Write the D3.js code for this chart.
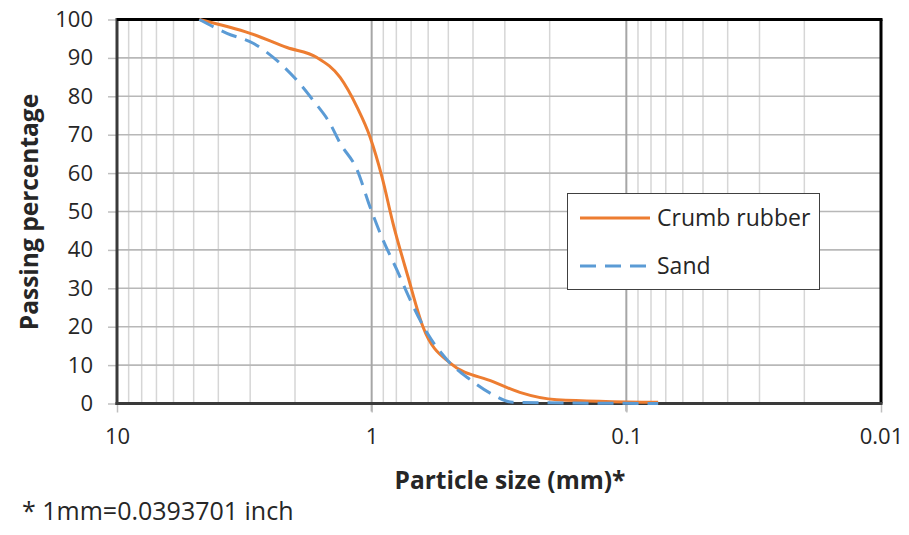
<!DOCTYPE html>
<html>
<head>
<meta charset="utf-8">
<script src="https://cdn.jsdelivr.net/npm/d3@7"></script>
<style>
  html, body { margin: 0; padding: 0; background: #fff; }
  svg { display: block; }
  text { font-family: "Open Sans", "Noto Sans", sans-serif; fill: #262626; }
</style>
</head>
<body>
<svg id="chart" width="909" height="535"></svg>
<script>
// Grain size distribution: particle size (mm) vs percent passing
const crumbSize = [4.75, 3.0, 2.15, 1.64, 1.33, 1.14, 1.015, 0.911, 0.825, 0.72, 0.629, 0.493, 0.334, 0.262, 0.1875, 0.075];
const crumbPass = [100, 96.4, 92.7, 90.1, 84.9, 77.1, 69.4, 59, 47, 33, 20, 10.6, 5.7, 2.9, 1, 0.3];

const sandSize = [4.75, 3.70, 2.92, 2.29, 1.86, 1.70, 1.46, 1.33, 1.14, 1.015, 0.903, 0.796, 0.706, 0.606, 0.506, 0.41, 0.334, 0.279, 0.075];
const sandPass = [100, 96.4, 93.8, 88.6, 82.3, 79, 73, 67.8, 60.8, 51.2, 42.6, 34.8, 27, 18.4, 11.4, 6.2, 2.3, 0.3, 0];

const xTickValues = [10, 1, 0.1, 0.01];
const xTickLabels = ["10", "1", "0.1", "0.01"];
const yTickValues = [0, 10, 20, 30, 40, 50, 60, 70, 80, 90, 100];

const seriesNames = ["Crumb rubber", "Sand"];
const seriesColors = ["#ED7D31", "#5B9BD5"];
const sandDash = "16,9";

const svg = d3.select("#chart");
const plotL = 117, plotR = 881, plotT = 19.5, plotB = 403.5;

const x = d3.scaleLog().domain([10, 0.01]).range([plotL, plotR]);
const y = d3.scaleLinear().domain([0, 100]).range([plotB, plotT]);

// minor vertical grid (2..9 within each decade)
const minor = [];
[1, 0.1, 0.01].forEach(dec => { for (let k = 2; k <= 9; k++) minor.push(dec * k); });
svg.append("g").selectAll("line").data(minor).join("line")
  .attr("x1", d => x(d)).attr("x2", d => x(d))
  .attr("y1", plotT).attr("y2", plotB)
  .attr("stroke", "#d6d6d6").attr("stroke-width", 1.5);

// horizontal grid
svg.append("g").selectAll("line").data(yTickValues.filter(v => v > 0 && v < 100)).join("line")
  .attr("x1", plotL).attr("x2", plotR)
  .attr("y1", d => y(d)).attr("y2", d => y(d))
  .attr("stroke", "#b8b8b8").attr("stroke-width", 1.6);

// major vertical grid at decades
svg.append("g").selectAll("line").data([1, 0.1]).join("line")
  .attr("x1", d => x(d)).attr("x2", d => x(d))
  .attr("y1", plotT).attr("y2", plotB + 8)
  .attr("stroke", "#a6a6a6").attr("stroke-width", 2);

// y axis ticks and labels
const yAxis = d3.axisLeft(y).tickValues(yTickValues).tickSize(9).tickPadding(15);
const gy = svg.append("g").attr("transform", `translate(${plotL},0)`).call(yAxis);
gy.select(".domain").remove();
gy.selectAll(".tick line").attr("stroke", "#bfbfbf").attr("stroke-width", 1.5);
gy.selectAll(".tick text").attr("font-size", 22).attr("font-family", "Open Sans, sans-serif").attr("fill", "#262626");

// x axis ticks and labels
const xAxis = d3.axisBottom(x).tickValues(xTickValues)
  .tickFormat((d, i) => xTickLabels[i]).tickSize(9).tickPadding(16);
const gx = svg.append("g").attr("transform", `translate(0,${plotB})`).call(xAxis);
gx.select(".domain").remove();
gx.selectAll(".tick line").attr("stroke", "#bfbfbf").attr("stroke-width", 1.5);
gx.selectAll(".tick text").attr("font-size", 22).attr("font-family", "Open Sans, sans-serif").attr("fill", "#262626");

// frame: dark axis on the left, black on top/right
svg.append("line").attr("x1", plotL).attr("x2", plotL).attr("y1", plotT - 1.5).attr("y2", plotB + 1.5)
  .attr("stroke", "#3a3a3a").attr("stroke-width", 3);
svg.append("line").attr("x1", plotL).attr("x2", plotR + 1.5).attr("y1", plotT).attr("y2", plotT)
  .attr("stroke", "#000").attr("stroke-width", 3);
svg.append("line").attr("x1", plotR).attr("x2", plotR).attr("y1", plotT).attr("y2", plotB)
  .attr("stroke", "#000").attr("stroke-width", 3);

// bottom axis line, under the curves
svg.append("line").attr("x1", plotL - 1.5).attr("x2", plotR + 1.5).attr("y1", plotB).attr("y2", plotB)
  .attr("stroke", "#3a3a3a").attr("stroke-width", 3);

// curves
const line = d3.line().x(d => x(d[0])).y(d => y(d[1])).curve(d3.curveMonotoneX);
const crumb = crumbSize.map((s, i) => [s, crumbPass[i]]);
const sand = sandSize.map((s, i) => [s, sandPass[i]]);

svg.append("path").datum(crumb).attr("d", line)
  .attr("fill", "none").attr("stroke", seriesColors[0]).attr("stroke-width", 3);
svg.append("path").datum(sand).attr("d", line)
  .attr("fill", "none").attr("stroke", seriesColors[1]).attr("stroke-width", 3)
  .attr("stroke-dasharray", sandDash);

// legend
const lg = svg.append("g");
lg.append("rect").attr("x", 567.5).attr("y", 193.5).attr("width", 252).attr("height", 96)
  .attr("fill", "#fff").attr("stroke", "#404040").attr("stroke-width", 1);
[218, 266].forEach((ly, i) => {
  lg.append("line").attr("x1", 580).attr("x2", 650).attr("y1", ly).attr("y2", ly)
    .attr("stroke", seriesColors[i]).attr("stroke-width", 3)
    .attr("stroke-dasharray", i === 1 ? sandDash : null);
  lg.append("text").attr("x", 657).attr("y", ly + 8).attr("font-size", 23)
    .text(seriesNames[i]);
});

// axis titles
svg.append("text").attr("transform", "translate(38,212) rotate(-90)")
  .attr("text-anchor", "middle").attr("font-size", 24.5).attr("font-weight", "bold")
  .text("Passing percentage");
svg.append("text").attr("x", 510).attr("y", 489)
  .attr("text-anchor", "middle").attr("font-size", 24.5).attr("font-weight", "bold")
  .text("Particle size (mm)*");

// footnote
svg.append("text").attr("x", 22).attr("y", 520).attr("font-size", 25)
  .text("* 1mm=0.0393701 inch");
</script>
</body>
</html>
